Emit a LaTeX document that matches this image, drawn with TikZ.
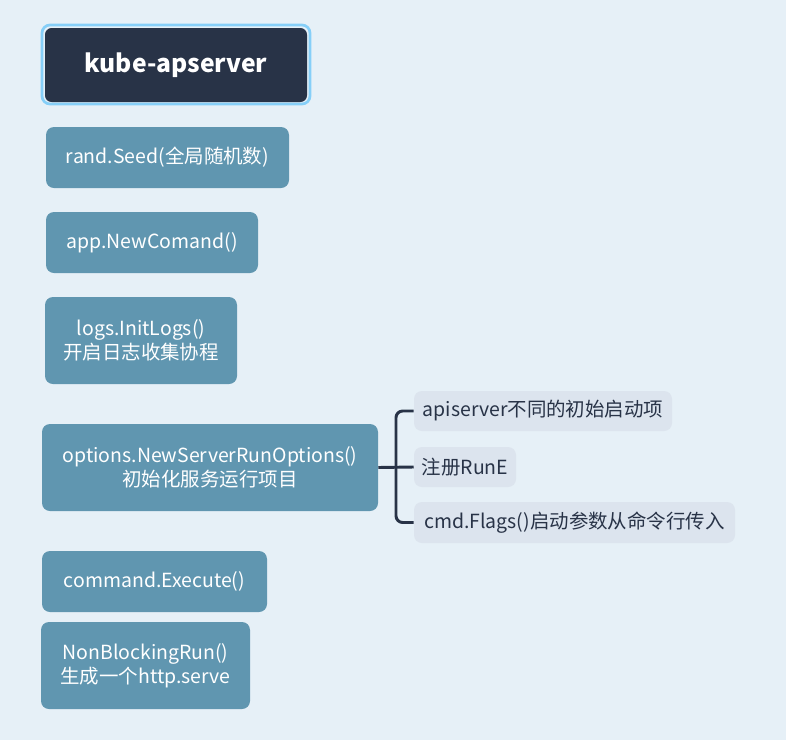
\documentclass[tikz,border=0pt]{standalone}
\usepackage{fontspec}
\setmainfont{Noto Sans CJK SC}
\definecolor{bgc}{HTML}{E6F0F7}
\definecolor{mainc}{HTML}{6096B0}
\definecolor{darkc}{HTML}{283347}
\definecolor{subc}{HTML}{DCE4EE}
\definecolor{glow}{HTML}{86CFF8}
\begin{document}
\begin{tikzpicture}[x=0.75pt,y=-0.75pt,
  mainbox/.style={fill=mainc,rounded corners=6pt,text=white,inner sep=0pt,align=center,font=\fontsize{14.6}{18}\selectfont},
  subbox/.style={fill=subc,rounded corners=6pt,text=darkc,inner sep=0pt,align=center,font=\fontsize{14.6}{18}\selectfont},
  conn/.style={draw=darkc,line width=2.2pt,rounded corners=5pt}]
\fill[bgc] (0,0) rectangle (786,740);
\useasboundingbox (0,0) rectangle (786,740);
% title
\draw[glow,line width=2pt,rounded corners=6pt] (42,25) rectangle (310,104);
\node[fill=darkc,rounded corners=5pt,text=white,inner sep=0pt,minimum width=196.5pt,minimum height=55.5pt,font=\fontsize{18.5}{22}\selectfont\bfseries] (title) at (176,65) {kube-apserver};
\node[mainbox,minimum width=182.25pt,minimum height=45.75pt] (seed) at (167.5,157.5) {rand.Seed(全局随机数)};
\node[mainbox,minimum width=159pt,minimum height=45.75pt] (app) at (152,242.5) {app.NewComand()};
\node[mainbox,minimum width=144pt,minimum height=65.25pt] (logs) at (141,340.5) {logs.InitLogs()\\开启日志收集协程};
\node[mainbox,minimum width=252pt,minimum height=65.25pt] (opt) at (210,467.5) {options.NewServerRunOptions()\\初始化服务运行项目};
\node[mainbox,minimum width=168.75pt,minimum height=45.75pt] (exec) at (154.5,581.5) {command.Execute()};
\node[mainbox,minimum width=156.75pt,minimum height=65.25pt] (nbr) at (145.5,665.5) {NonBlockingRun()\\生成一个http.serve};
% sub items
\node[subbox,minimum width=193.5pt,minimum height=30pt] (s1) at (543,411) {apiserver不同的初始启动项};
\node[subbox,minimum width=76.5pt,minimum height=30pt] (s2) at (465,467) {注册RunE};
\node[subbox,minimum width=240.75pt,minimum height=30.75pt] (s3) at (574.5,522.5) {cmd.Flags()启动参数从命令行传入};
\coordinate (tr) at (396,467);
\draw[conn] (s1.west) -| (tr) |- (s3.west);
\draw[conn] (opt.east) -- (s2.west);
\end{tikzpicture}
\end{document}
